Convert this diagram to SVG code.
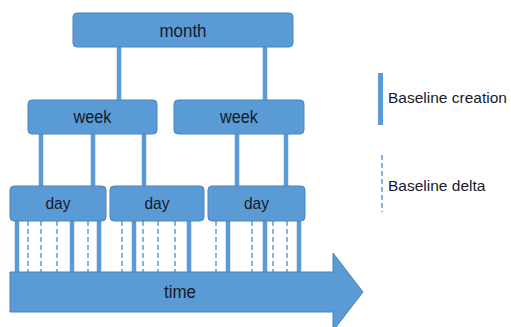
<svg xmlns="http://www.w3.org/2000/svg" width="511" height="327" viewBox="0 0 511 327">
<style>
.box{fill:#5b9bd5;stroke:#4a84bb;stroke-width:1}
.solid{stroke:#5b9bd5;stroke-width:4.5;fill:none}
.dash{stroke:#5b9bd5;stroke-width:1.5;stroke-dasharray:5 3;fill:none}
.lbl{font-family:"Liberation Sans",Arial,sans-serif;fill:#141a2a;text-anchor:middle}
.leg{font-family:"Liberation Sans",Arial,sans-serif;fill:#141a2a;font-size:15.5px}
</style>
<rect width="511" height="327" fill="#ffffff"/>
<g id="connectors">
<line class="solid" x1="119" y1="47" x2="119" y2="100"/>
<line class="solid" x1="265" y1="47" x2="265" y2="100"/>
<line class="solid" x1="41" y1="134" x2="41" y2="186"/>
<line class="solid" x1="93" y1="134" x2="93" y2="186"/>
<line class="solid" x1="144" y1="134" x2="144" y2="186"/>
<line class="solid" x1="237" y1="134" x2="237" y2="186"/>
<line class="solid" x1="286" y1="134" x2="286" y2="186"/>
<line class="solid" x1="17" y1="221" x2="17" y2="273"/>
<line class="solid" x1="72" y1="221" x2="72" y2="273"/>
<line class="solid" x1="99" y1="221" x2="99" y2="273"/>
<line class="solid" x1="134" y1="221" x2="134" y2="273"/>
<line class="solid" x1="189" y1="221" x2="189" y2="273"/>
<line class="solid" x1="228" y1="221" x2="228" y2="273"/>
<line class="solid" x1="265" y1="221" x2="265" y2="273"/>
<line class="solid" x1="299" y1="221" x2="299" y2="273"/>
<line class="dash" x1="28" y1="221" x2="28" y2="273"/>
<line class="dash" x1="41" y1="221" x2="41" y2="273"/>
<line class="dash" x1="57" y1="221" x2="57" y2="273"/>
<line class="dash" x1="88" y1="221" x2="88" y2="273"/>
<line class="dash" x1="122" y1="221" x2="122" y2="273"/>
<line class="dash" x1="143" y1="221" x2="143" y2="273"/>
<line class="dash" x1="158" y1="221" x2="158" y2="273"/>
<line class="dash" x1="175" y1="221" x2="175" y2="273"/>
<line class="dash" x1="216" y1="221" x2="216" y2="273"/>
<line class="dash" x1="252" y1="221" x2="252" y2="273"/>
<line class="dash" x1="273" y1="221" x2="273" y2="273"/>
<line class="dash" x1="287" y1="221" x2="287" y2="273"/>
</g>
<g id="month">
<rect class="box" x="73" y="13" width="220" height="34" rx="4"/>
<text class="lbl" x="183" y="36.5" font-size="18" textLength="47" lengthAdjust="spacingAndGlyphs">month</text>
</g>
<g id="week1">
<rect class="box" x="28" y="100" width="129" height="34" rx="4"/>
<text class="lbl" x="92.5" y="123" font-size="17.5" textLength="38" lengthAdjust="spacingAndGlyphs">week</text>
</g>
<g id="week2">
<rect class="box" x="174" y="100" width="130" height="34" rx="4"/>
<text class="lbl" x="239" y="123" font-size="17.5" textLength="38" lengthAdjust="spacingAndGlyphs">week</text>
</g>
<g id="day1">
<rect class="box" x="10" y="186" width="96" height="35" rx="4"/>
<text class="lbl" x="58" y="209" font-size="17" textLength="25" lengthAdjust="spacingAndGlyphs">day</text>
</g>
<g id="day2">
<rect class="box" x="110" y="186" width="94" height="35" rx="4"/>
<text class="lbl" x="157" y="209" font-size="17" textLength="25" lengthAdjust="spacingAndGlyphs">day</text>
</g>
<g id="day3">
<rect class="box" x="208" y="186" width="97" height="35" rx="4"/>
<text class="lbl" x="256.5" y="209" font-size="17" textLength="25" lengthAdjust="spacingAndGlyphs">day</text>
</g>
<g id="time">
<polygon class="box" points="10,272 333,272 333,253 363,292 333,331 333,312 10,312"/>
<text class="lbl" x="180" y="298" font-size="18" textLength="32" lengthAdjust="spacingAndGlyphs">time</text>
</g>
<g id="legend">
<line x1="380.5" y1="73" x2="380.5" y2="125" stroke="#5b9bd5" stroke-width="5"/>
<text class="leg" x="388" y="103">Baseline creation</text>
<line class="dash" x1="382" y1="155" x2="382" y2="212"/>
<text class="leg" x="388" y="191">Baseline delta</text>
</g>
</svg>
